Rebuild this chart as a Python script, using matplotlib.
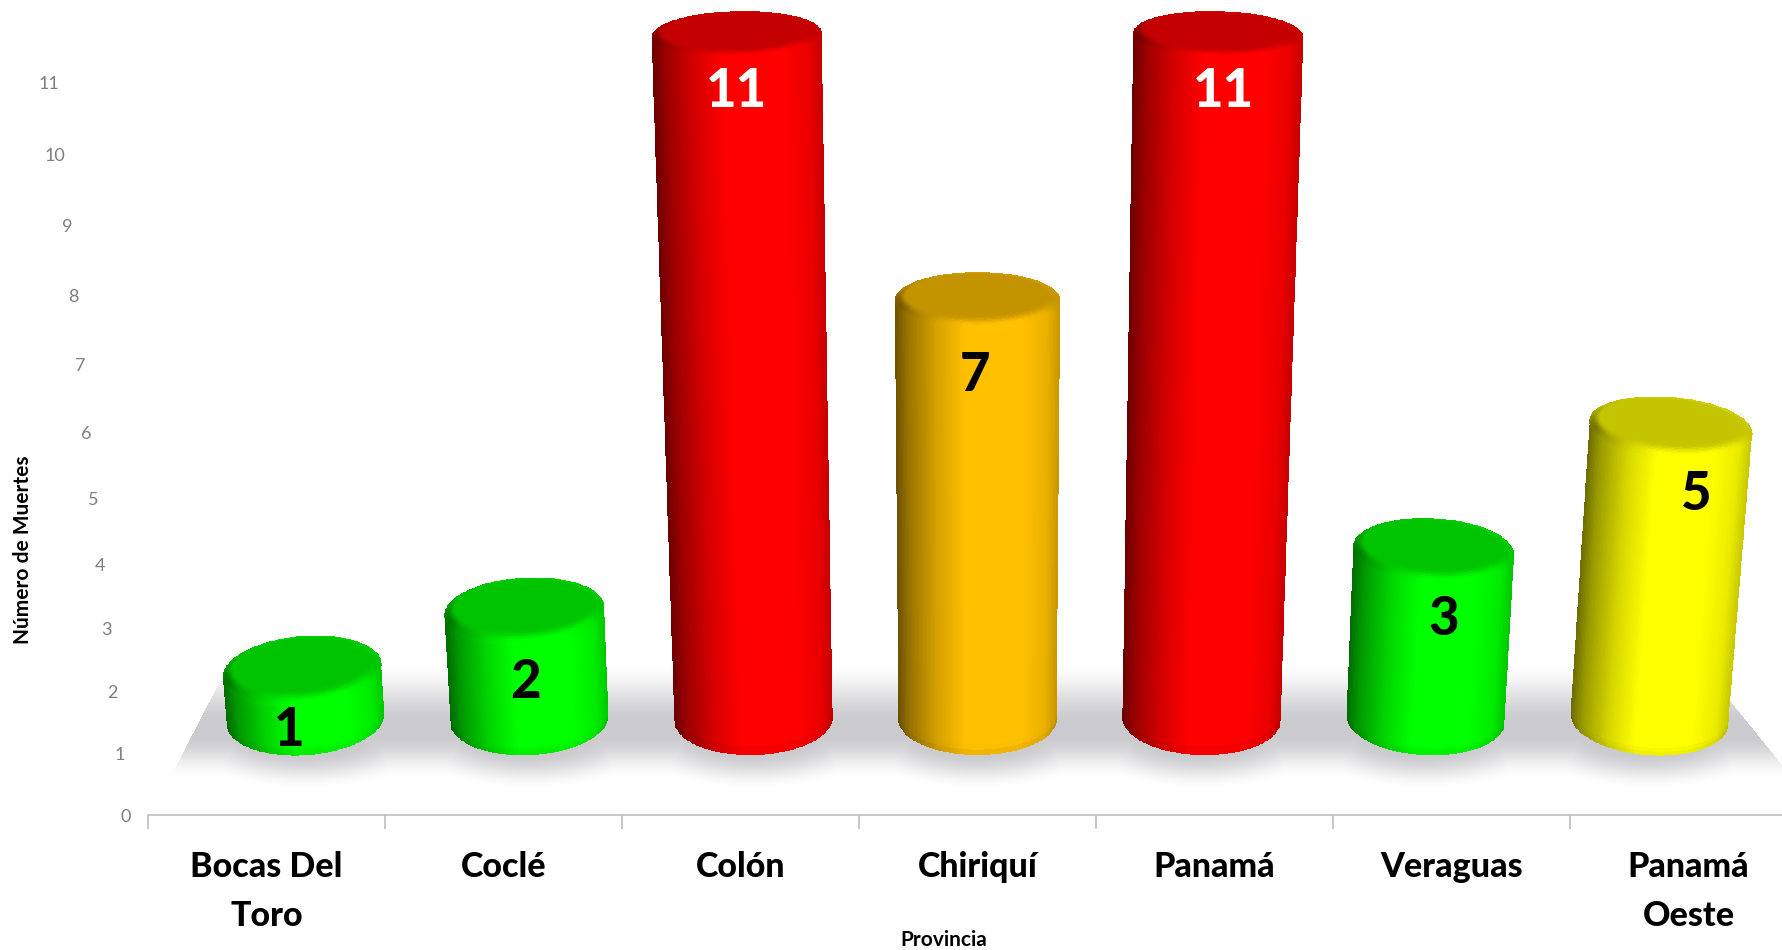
import matplotlib
matplotlib.use("Agg")
import matplotlib.pyplot as plt
import matplotlib.ticker as mticker
import numpy as np

provincias = ["Bocas Del\nToro", "Coclé", "Colón", "Chiriquí", "Panamá", "Veraguas", "Panamá\nOeste"]
muertes = [1, 2, 11, 7, 11, 3, 5]
colores = ["#00FF00", "#00FF00", "#FF0000", "#FFC000", "#FF0000", "#00FF00", "#FFFF00"]
color_num = ["black", "black", "white", "black", "white", "black", "black"]
y_ticks = list(range(0, 12))

# nudges for the number on each bar, pixels
num_dx = [-13, 1, 0, -3, 5, 10, 25]
num_dy = [-94, -105, -80, -103, -80, -101, -97]

W, H = 1782, 950
base_px = 815
left_px = 148
cat_px = 237
plt.rcParams["font.family"] = ["Lato", "DejaVu Sans"]


# the chart was a 3D one, so the value axis is not linear: height in pixels
def val2px(v):
    v = np.asarray(v, dtype=float)
    return 60.5 * v + 0.55 * v ** 2


def px2val(h):
    h = np.maximum(np.asarray(h, dtype=float), 0)
    return (-60.5 + np.sqrt(60.5 ** 2 + 4 * 0.55 * h)) / (2 * 0.55)


def smooth(a, b, x):
    t = np.clip((x - a) / (b - a), 0, 1)
    return t * t * (3 - 2 * t)


fig = plt.figure(figsize=(W / 100, H / 100), dpi=100, facecolor="white")
bg = fig.add_axes([0, 0, 1, 1], zorder=0)
ax = fig.add_axes([left_px / W, (H - base_px) / H, (W - left_px) / W, base_px / H], zorder=1)
ax.patch.set_visible(False)
ax.set_yscale("function", functions=(val2px, px2val))
xlim = (-0.5, (W - left_px) / cat_px - 0.5)
ylim = (0, float(px2val(base_px)))
ax.set_xlim(xlim)
ax.set_ylim(ylim)
ax.autoscale(False)

k = 1.1e-4
w0 = 0.667
base_h = 96
base_e = 36
centro = 3


def bar_x(i):
    return centro + 0.945 * (i - centro)


def cx_at(x0, h):
    return centro + (x0 - centro) * (1 + k * (h - base_h))


def w_at(h):
    return w0 * (1 + k * (h - base_h))


def shade(u):
    return np.interp(u, [-1, -0.85, -0.5, -0.15, 0.55, 0.85, 1],
                     [0.42, 0.6, 0.84, 1, 1, 0.92, 0.78])


def cilindro(x0, val, color):
    col = np.array(matplotlib.colors.to_rgb(color))
    cara = col * 0.77
    top_back = val2px(1.97 + 0.91 * val)
    e = (72 - 2.2 * val) / 2
    top_h = top_back - e
    tilt = -2.2 * (x0 - centro)

    # body: front of the base ellipse up to just inside the top ellipse, no gaps
    nu, nv = 120, 80
    ue = np.linspace(-1, 1, nu + 1)
    ve = np.linspace(0, 1, nv + 1)
    U, V = np.meshgrid(ue, ve)
    arco = np.sqrt(1 - U ** 2)
    Hh = (base_h - base_e * arco) * (1 - V) + (top_h - e * 0.85 * arco) * V + tilt * U
    X = cx_at(x0, Hh) + U * w_at(Hh) / 2
    uc = (ue[:-1] + ue[1:]) / 2
    vc = (ve[:-1] + ve[1:]) / 2
    alto = top_h - base_h
    s = shade(uc)[None, :] * (0.93 + 0.07 * smooth(0, 10 / max(alto, 1), vc))[:, None]
    ax.pcolormesh(X, px2val(Hh), s[..., None] * col, shading="flat", zorder=3)

    # top: flat face with a lighter bevel around it
    nt, nr = 160, 50
    th = np.linspace(0, 2 * np.pi, nt + 1)
    re = np.linspace(0, 1, nr + 1)
    T, Rr = np.meshgrid(th, re)
    a = w_at(top_h) / 2
    dy = 0.2 * e
    q = (Rr - 0.8) / 0.2
    f = np.where(Rr < 0.8, Rr / 0.8 * 0.86, 0.86 + q * 0.14)
    g = np.where(Rr < 0.8, Rr / 0.8 * 0.74, 0.74 + q * 0.26)
    off = np.where(Rr < 0.8, dy, dy * (1 - q))
    Xt = cx_at(x0, top_h) + a * f * np.cos(T)
    Yt = top_h + off + e * g * np.sin(T) + tilt * f * np.cos(T)
    tc = (th[:-1] + th[1:]) / 2
    rc = (re[:-1] + re[1:]) / 2
    Tc, Rc = np.meshgrid(tc, rc)
    frente = np.clip(0.75 - np.sin(Tc), 0.2, 1)
    mezcla = smooth(0.8, 0.95, Rc) * frente
    cuerpo = shade(np.cos(Tc))[..., None] * col
    C = cara * (1 - mezcla[..., None]) + cuerpo * mezcla[..., None]
    ax.pcolormesh(Xt, px2val(Yt), C, shading="flat", zorder=4)
    return cx_at(x0, top_h), top_back


# grey floor with soft shadows under the bars
yy, xx = np.mgrid[0:H, 0:W]
alpha = 1 - smooth(735, 778, yy)
for i in range(len(muertes)):
    px = ax.transData.transform((bar_x(i), 1))[0]
    d = np.sqrt(((xx - px) / 150.0) ** 2 + ((yy - 725) / 64.0) ** 2)
    alpha = np.maximum(alpha, 1 - smooth(0.45, 1.0, d))
alpha = alpha * smooth(660, 725, yy)
# sides of the floor, cut sharp
izq = 176 + (765 - yy) * (225 - 176) / (765 - 670)
der = 1782 + (yy - 765) * (1782 - 1705) / (765 - 670)
alpha = alpha * (xx > izq) * (xx < der)
rgba = np.zeros((H, W, 4))
rgba[..., :3] = np.array([203, 203, 207]) / 255
rgba[..., 3] = alpha
bg.imshow(rgba, interpolation="bilinear", aspect="auto")
bg.axis("off")

for i, (val, c) in enumerate(zip(muertes, colores)):
    cx, top = cilindro(bar_x(i), val, c)
    ax.annotate(str(val), (cx, float(px2val(top))), xycoords="data",
                xytext=(num_dx[i], num_dy[i]), textcoords="offset pixels",
                ha="center", va="center", fontsize=38, fontweight=900,
                color=color_num[i], zorder=6, annotation_clip=False)

# axes
for s in ["top", "left", "right"]:
    ax.spines[s].set_visible(False)
ax.spines["bottom"].set_color("#BFBFBF")
ax.spines["bottom"].set_linewidth(1.2)

ax.set_xticks(range(len(provincias)))
ax.set_xticklabels(provincias, fontsize=24.5, fontweight=900, color="black", linespacing=1.65)
ax.set_xticks(np.arange(len(provincias)) - 0.5, minor=True)
ax.tick_params(axis="x", which="major", length=0, pad=26)
ax.tick_params(axis="x", which="minor", length=10, color="#BFBFBF", width=1.2)

ax.set_yticks(y_ticks)
ax.set_yticklabels([str(v) for v in y_ticks], fontsize=13, color="#7F7F7F")
ax.tick_params(axis="y", length=0)
ax.yaxis.set_minor_locator(mticker.NullLocator())
for v, tick in zip(y_ticks, ax.yaxis.get_major_ticks()):
    # labels walk to the left with height, same as in the 3D wall
    tick.set_pad((17 + 6.55 * v) * 0.72)

ax.set_xlim(xlim)
ax.set_ylim(ylim)

ax.set_ylabel("Número de Muertes", fontsize=15, fontweight="bold", va="center")
ax.yaxis.set_label_coords((23 - left_px) / (W - left_px), (815 - 550) / 815)
ax.set_xlabel("Provincia", fontsize=15, fontweight="bold", va="center")
ax.xaxis.set_label_coords((944 - left_px) / (W - left_px), -(940 - 815) / 815)

fig.savefig("out.png", dpi=100)
